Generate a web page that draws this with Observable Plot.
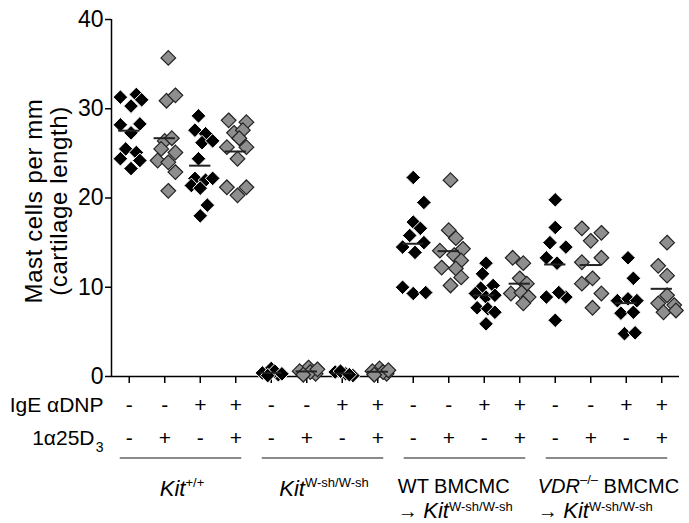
<!DOCTYPE html>
<html><head><meta charset="utf-8">
<script src="https://cdn.jsdelivr.net/npm/d3@7"></script>
<script src="https://cdn.jsdelivr.net/npm/@observablehq/plot@0.6"></script>
<style>
body{margin:0;background:#fff}
svg{font-family:"Liberation Sans",Arial,Helvetica,sans-serif}
</style>
</head><body><div id="chart"></div>
<script>
// Treatment rows (one entry per column)
const igeSigns = ["-","-","+","+","-","-","+","+","-","-","+","+","-","-","+","+"];
const vitSigns = ["-","+","-","+","-","+","-","+","-","+","-","+","-","+","-","+"];
const groupNames = ["Kit+/+","KitW-sh/W-sh","WT BMCMC → KitW-sh/W-sh","VDR−/− BMCMC → KitW-sh/W-sh"];

// Mast cells per mm, per column
const v0  = [31.3,31.6,30.3,31.0,28.2,27.3,28.3,25.5,24.4,25.1,24.2,23.3];
const v1  = [35.7,30.9,31.5,26.4,26.7,25.5,25.1,24.2,24.0,22.9,20.8];
const v2  = [29.2,27.6,27.2,26.2,26.4,24.4,22.2,22.0,22.2,21.4,21.1,19.2,18.0];
const v3  = [28.7,28.5,27.3,27.6,26.7,25.7,25.7,24.4,21.2,21.2,20.3];
const v4  = [0.9,0.4,0.2,0.6,0.1,0.3];
const v5  = [1.0,0.6,0.3,0.5,0.2,0.8];
const v6  = [0.5,0.3,0.1,0.6,0.2];
const v7  = [0.9,0.6,0.3,0.5,0.2,0.7];
const v8  = [22.3,19.5,17.3,16.6,15.8,15.0,14.5,13.9,10.0,9.3,9.4];
const v9  = [22.0,16.4,15.5,14.3,14.1,13.6,13.0,12.2,12.1,11.1,10.2];
const v10 = [12.7,11.5,10.2,9.9,9.3,8.9,9.1,7.7,7.6,7.2,5.9];
const v11 = [13.3,12.7,11.0,10.4,9.3,9.4,8.9,8.2];
const v12 = [19.8,16.7,15.0,14.5,13.3,12.7,8.9,8.9,9.4,6.3];
const v13 = [16.6,16.1,15.2,12.8,13.3,10.4,11.0,9.3,7.7];
const v14 = [13.3,11.0,8.5,8.7,8.5,7.1,7.2,4.8,4.9];
const v15 = [15.0,12.4,11.3,9.1,8.2,8.0,7.2,7.4];

// Horizontal scatter of each point within its column (fraction of column width)
const j0  = [-0.25,0.2,0.05,0.35,-0.25,0.05,0.3,-0.1,-0.25,0.2,0.3,0.05];
const j1  = [0.1,0.05,0.3,0,0.2,-0.1,0.3,-0.2,0.1,0.3,0.1];
const j2  = [-0.05,-0.15,0.15,0.05,0.35,-0.05,-0.15,0.15,0.35,-0.25,0,0.2,0];
const j3  = [-0.2,0.3,-0.05,0.2,0.1,-0.25,0.3,0.05,-0.25,0.3,0.05];
const j4  = [0,-0.25,0.2,0.1,-0.1,0.3];
const j5  = [0.05,-0.2,0.25,0.1,-0.1,0.3];
const j6  = [-0.2,0.1,0.3,-0.05,0.2];
const j7  = [0.05,-0.15,0.25,0.15,-0.1,0.3];
const j8  = [0,0.3,0,0.2,-0.1,0.3,-0.3,0.05,-0.3,0,0.35];
const j9  = [0.05,0,0.2,0.4,-0.25,0.15,0.35,-0.2,0.2,0.35,0.05];
const j10 = [0.05,-0.05,0.25,-0.1,-0.25,0.05,0.3,-0.2,0.1,0.3,0.05];
const j11 = [-0.2,0.1,0,0.2,-0.25,0.05,0.25,0.1];
const j12 = [0,0,-0.15,0.3,-0.25,0.05,-0.25,0.3,0.1,0];
const j13 = [-0.25,0.3,0,-0.25,0.3,-0.25,0.05,0.3,0.05];
const j14 = [0.05,0.2,-0.25,0.05,0.3,-0.15,0.2,-0.05,0.25];
const j15 = [0.15,-0.1,0.15,0.15,-0.1,0.35,0.05,0.4];

const values = [v0,v1,v2,v3,v4,v5,v6,v7,v8,v9,v10,v11,v12,v13,v14,v15];
const jitter = [j0,j1,j2,j3,j4,j5,j6,j7,j8,j9,j10,j11,j12,j13,j14,j15];

const points = values.flatMap((vals, i) => vals.map((v, k) => ({i, v, o: jitter[i][k], vit: vitSigns[i]})));
const blackPts = points.filter(d => d.vit === "-");
const grayPts = points.filter(d => d.vit === "+");
const means = values.map((vals, i) => ({i, m: d3.mean(vals)}));
const cols = d3.range(values.length);

const plot = Plot.plot({
  width: 689, height: 523,
  marginLeft: 111, marginRight: 10, marginTop: 19, marginBottom: 147,
  x: {domain: [-0.5, 15.5], axis: null},
  y: {domain: [0, 40], axis: null},
  style: {fontFamily: '"Liberation Sans", Arial, sans-serif', color: "#000", background: "#fff"},
  marks: [
    Plot.axisY({ticks: [0,10,20,30,40], tickSize: 6, tickPadding: 2, fontSize: 23, label: null, strokeWidth: 1.5}),
    Plot.axisX({ticks: cols, tickSize: 7, tickFormat: () => "", label: null, strokeWidth: 1.5}),
    Plot.ruleY([0], {strokeWidth: 1.5}),
    Plot.ruleX([-0.5], {strokeWidth: 1.5}),
    Plot.dot(blackPts, {x: d => d.i + d.o, y: "v", symbol: "diamond2", r: 6.6, fill: "#000", stroke: "#fff", strokeWidth: 1}),
    Plot.dot(grayPts, {x: d => d.i + d.o, y: "v", symbol: "diamond2", r: 6.6, fill: "#8e8e8e", stroke: "#222", strokeWidth: 1.2}),
    Plot.ruleY(means, {y: "m", x1: d => d.i - 0.3, x2: d => d.i + 0.3, stroke: "#222", strokeWidth: 2}),
    Plot.text(igeSigns, {x: (d, i) => i, text: d => d, frameAnchor: "bottom", dy: 35, fontSize: 21}),
    Plot.text(vitSigns, {x: (d, i) => i, text: d => d, frameAnchor: "bottom", dy: 68, fontSize: 21}),
    Plot.text(["IgE αDNP"], {frameAnchor: "bottom-left", dx: -8, dy: 35, textAnchor: "end", fontSize: 21}),
    Plot.text(["1α25D"], {frameAnchor: "bottom-left", dx: -17, dy: 68, textAnchor: "end", fontSize: 21}),
    Plot.text(["3"], {frameAnchor: "bottom-left", dx: -8, dy: 75, textAnchor: "end", fontSize: 14})
  ]
});

const svg = d3.select(plot);
const xs = plot.scale("x");
const X = v => xs.apply(v);

// y-axis title (two lines)
const yt = svg.append("text")
  .attr("transform", `translate(42,201) rotate(-90)`)
  .attr("text-anchor", "middle").attr("font-size", 24).attr("letter-spacing", 0.6).attr("fill", "#000");
yt.append("tspan").attr("x", 0).attr("dy", 0).text("Mast cells per mm");
yt.append("tspan").attr("x", 0).attr("dy", 25).text("(cartilage length)");

// group underlines
for (let g = 0; g < 4; g++) {
  svg.append("line")
    .attr("x1", X(g * 4) - 9).attr("x2", X(g * 4 + 3) + 6)
    .attr("y1", 458).attr("y2", 458)
    .attr("stroke", "#8a8a8a").attr("stroke-width", 1.8);
}

function kit(textSel) {
  textSel.append("tspan").attr("font-style", "italic").attr("font-size", 22).text("Kit");
}
function sup(textSel, s, d = -9) {
  textSel.append("tspan").attr("font-size", 13).attr("dy", d).text(s);
}
const fs = 20;
// Group 1
{
  const t = svg.append("text").attr("x", (X(0) + X(3)) / 2).attr("y", 496).attr("text-anchor", "middle").attr("font-size", fs);
  kit(t); sup(t, "+/+");
}
// Group 2
{
  const t = svg.append("text").attr("x", (X(4) + X(7)) / 2).attr("y", 496).attr("text-anchor", "middle").attr("font-size", fs);
  kit(t); sup(t, "W-sh/W-sh");
}
// Group 3
{
  svg.append("text").attr("x", X(8) - 15).attr("y", 493).attr("text-anchor", "start").attr("font-size", fs).text("WT BMCMC");
  const t = svg.append("text").attr("x", X(8) - 15).attr("y", 518).attr("text-anchor", "start").attr("font-size", fs);
  t.append("tspan").text("→ ");
  kit(t); sup(t, "W-sh/W-sh", -7);
}
// Group 4
{
  const t1 = svg.append("text").attr("x", X(12) - 17).attr("y", 493).attr("text-anchor", "start").attr("font-size", fs);
  t1.append("tspan").attr("font-style", "italic").text("VDR");
  sup(t1, "–/–");
  t1.append("tspan").attr("dy", 9).text(" BMCMC");
  const t = svg.append("text").attr("x", X(12) - 17).attr("y", 518).attr("text-anchor", "start").attr("font-size", fs);
  t.append("tspan").text("→ ");
  kit(t); sup(t, "W-sh/W-sh", -7);
}

document.getElementById("chart").appendChild(plot);
</script>
</body></html>
